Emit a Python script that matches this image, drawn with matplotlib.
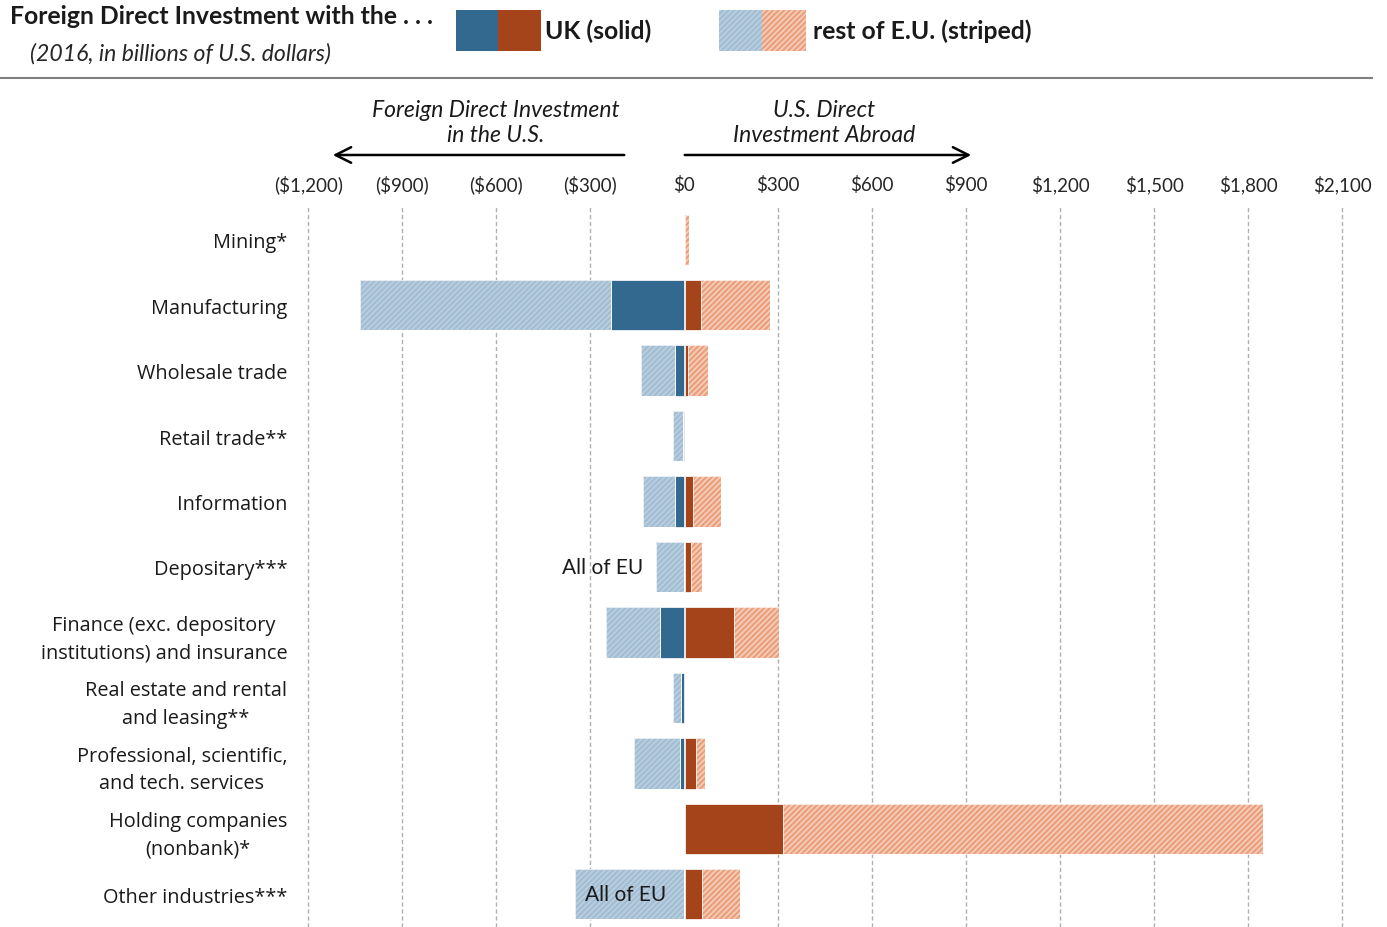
import numpy as np
import matplotlib
matplotlib.use("Agg")
import matplotlib.pyplot as plt
from matplotlib.patches import Rectangle

# 2016, billions of U.S. dollars
categories = ["Mining*", "Manufacturing", "Wholesale trade", "Retail trade**",
              "Information", "Depositary***",
              "Finance (exc. depository\ninstitutions) and insurance",
              "Real estate and rental\nand leasing**",
              "Professional, scientific,\nand tech. services",
              "Holding companies\n(nonbank)*", "Other industries***"]
uk_in = [0, 233, 29, 3, 29, 0, 78, 10, 14, 0, 0]        # FDI in the U.S. from UK
eu_in = [0, 802, 110, 34, 102, 90, 172, 27, 147, 0, 348]  # rest of EU (or all EU)
uk_out = [0, 49, 9, 0, 26, 17, 155, 0, 33, 311, 53]     # U.S. investment in UK
eu_out = [13, 222, 62, 0, 89, 37, 145, 0, 30, 1532, 123]  # U.S. investment rest of EU
ticks = [-1200, -900, -600, -300, 0, 300, 600, 900, 1200, 1500, 1800, 2100]

blue = "#33698f"
orange = "#a5441b"
lblue = "#bacfe0"
lblue_h = "#a3bdd3"
lorange = "#f4cfbb"
lorange_h = "#eb9f7c"

plt.rcParams['hatch.linewidth'] = 1.6
plt.rcParams['font.family'] = ['Lato', 'DejaVu Sans']

W, H = 1387, 928
fig = plt.figure(figsize=(W / 100, H / 100), dpi=100)

x0, x1 = 292.7, 1354.8
ax = fig.add_axes([x0 / W, 0, (x1 - x0) / W, 720 / H])
ax.set_xlim(-1250, 2140)
ax.set_ylim(10.5, -0.5)

y = np.arange(len(categories))
uk_in = np.array(uk_in)
eu_in = np.array(eu_in)
uk_out = np.array(uk_out)
eu_out = np.array(eu_out)
h = 0.77
off = 3

ax.barh(y, -uk_in, height=h, color=blue, edgecolor="white", linewidth=0.5, zorder=3)
ax.barh(y, -eu_in, left=-uk_in, height=h, color=lblue, edgecolor=lblue_h,
        linewidth=0, hatch="//////", zorder=3)
ax.barh(y, -eu_in, left=-uk_in, height=h, fill=False, edgecolor="white",
        linewidth=0.5, zorder=4)
ax.barh(y, uk_out, left=off, height=h, color=orange, edgecolor="white", linewidth=0.5, zorder=3)
ax.barh(y, eu_out, left=off + uk_out, height=h, color=lorange, edgecolor=lorange_h,
        linewidth=0, hatch="//////", zorder=3)
ax.barh(y, eu_out, left=off + uk_out, height=h, fill=False, edgecolor="white",
        linewidth=0.5, zorder=4)

for t in ticks:
    if t != 0:
        ax.axvline(t, color="#b0b0b0", linestyle=(0, (3, 2)), linewidth=1, zorder=1)

ax.xaxis.tick_top()
ax.set_xticks(ticks)
ax.set_xticklabels([f"(${-t:,})" if t < 0 else f"${t:,}" for t in ticks],
                   fontsize=13.5, color="#262626")
ax.tick_params(axis="x", length=0, pad=10)
ax.set_yticks(y)
ax.set_yticklabels(categories, fontsize=14.3, color="#1a1a1a", linespacing=1.5,
                   multialignment="center", family=["Open Sans", "DejaVu Sans"])
ax.tick_params(axis="y", length=0, pad=4)
for s in ax.spines.values():
    s.set_visible(False)

ax.text(-132, 5, "All of EU", ha="right", va="center", fontsize=15, color="#1a1a1a",
        zorder=5)
ax.text(-317, 10, "All of EU", ha="left", va="center", fontsize=15, color="#1a1a1a",
        zorder=5)

# header
fig.text(10 / W, 1 - 17 / H, "Foreign Direct Investment with the . . .", fontsize=17.8,
         fontweight="bold", va="center", ha="left", color="#1a1a1a")
fig.text(30 / W, 1 - 54 / H, "(2016, in billions of U.S. dollars)", fontsize=16.6,
         style="italic", va="center", ha="left", color="#262626")


def box(px, pw, fc, hc=None):
    r = Rectangle((px / W, 1 - 52 / H), pw / W, 41 / H, transform=fig.transFigure,
                  facecolor=fc, edgecolor=hc if hc else fc, linewidth=0,
                  hatch="//////" if hc else None)
    fig.add_artist(r)


box(456, 42, blue)
box(498, 43, orange)
box(719, 43, lblue, lblue_h)
box(762, 44, lorange, lorange_h)
fig.text(545 / W, 1 - 31 / H, "UK (solid)", fontsize=17.8, fontweight="bold",
         va="center", ha="left", color="#1a1a1a")
fig.text(813 / W, 1 - 31 / H, "rest of E.U. (striped)", fontsize=17.8, fontweight="bold",
         va="center", ha="left", color="#1a1a1a")
fig.add_artist(plt.Line2D([0, 1372 / W], [1 - 79 / H, 1 - 79 / H],
                          transform=fig.transFigure, color="#808080", linewidth=1.5))

# direction arrows
fig.text(496 / W, 1 - 123 / H, "Foreign Direct Investment\nin the U.S.", fontsize=16.5,
         style="italic", ha="center", va="center", color="#1a1a1a", linespacing=1.2)
fig.text(824 / W, 1 - 123 / H, "U.S. Direct\nInvestment Abroad", fontsize=16.5,
         style="italic", ha="center", va="center", color="#1a1a1a", linespacing=1.2)
fig.add_artist(plt.Annotation("", xy=(330 / W, 1 - 156 / H), xytext=(627 / W, 1 - 156 / H),
                              xycoords=fig.transFigure, textcoords=fig.transFigure,
                              arrowprops=dict(arrowstyle="->", color="black", lw=1.8,
                                              mutation_scale=28)))
fig.add_artist(plt.Annotation("", xy=(974 / W, 1 - 156 / H), xytext=(682 / W, 1 - 156 / H),
                              xycoords=fig.transFigure, textcoords=fig.transFigure,
                              arrowprops=dict(arrowstyle="->", color="black", lw=1.8,
                                              mutation_scale=28)))

fig.savefig("out.png", dpi=100)
